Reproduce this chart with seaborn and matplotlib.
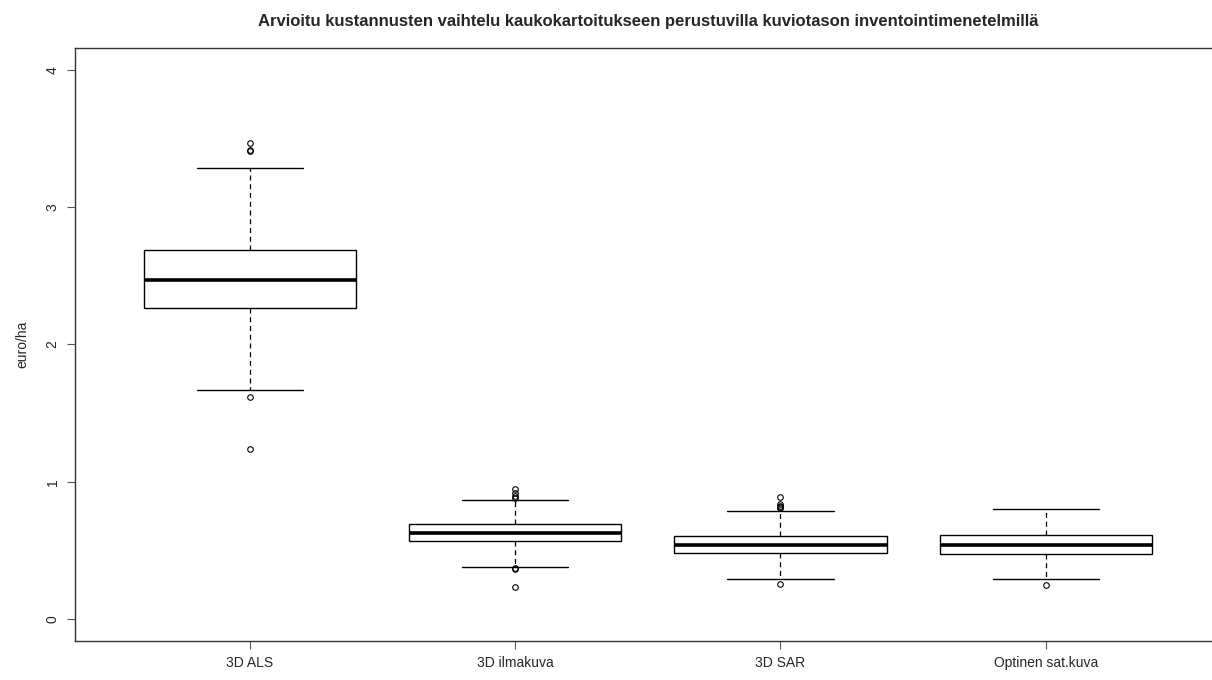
import pandas as pd
import matplotlib
matplotlib.use("Agg")
import matplotlib.pyplot as plt
import seaborn as sns

# Values (euro/ha), per inventory method
methods = ["3D ALS", "3D ilmakuva", "3D SAR", "Optinen sat.kuva"]

als = [1.241, 1.614, 1.665, 1.95, 2.12, 2.265, 2.31, 2.36, 2.41, 2.44, 2.472,
       2.51, 2.56, 2.61, 2.65, 2.686, 2.95, 3.283, 3.41, 3.42, 3.466]
ilmakuva = [0.23, 0.365, 0.37, 0.38, 0.47, 0.565, 0.58, 0.595, 0.605, 0.615, 0.627,
            0.64, 0.655, 0.665, 0.68, 0.69, 0.87, 0.885, 0.895, 0.92, 0.95]
sar = [0.256, 0.29, 0.33, 0.38, 0.42, 0.455, 0.478, 0.49, 0.50, 0.51, 0.52, 0.53,
       0.541, 0.55, 0.56, 0.575, 0.585, 0.595, 0.605, 0.79, 0.81, 0.815, 0.825,
       0.835, 0.887]
optinen = [0.249, 0.29, 0.35, 0.40, 0.44, 0.473, 0.49, 0.505, 0.52, 0.53, 0.541,
           0.555, 0.57, 0.585, 0.60, 0.609, 0.66, 0.70, 0.74, 0.77, 0.802]

df = pd.concat([
    pd.DataFrame({"menetelma": m, "kustannus": v})
    for m, v in zip(methods, [als, ilmakuva, sar, optinen])
])

sns.set_style("white")
plt.rcParams["font.family"] = ["Liberation Sans", "DejaVu Sans"]

fig = plt.figure(figsize=(12.12, 6.8), dpi=100)
ax = fig.add_axes([0.0619, 0.0574, 0.9453, 0.872])

sns.boxplot(
    data=df, x="menetelma", y="kustannus", order=methods, ax=ax,
    width=0.8, whis=1.5, color="white", linecolor="black", linewidth=1,
    boxprops=dict(facecolor="white", edgecolor="black", linewidth=1),
    medianprops=dict(color="black", linewidth=2.6),
    whiskerprops=dict(color="black", linestyle=(0, (4, 3)), linewidth=0.9),
    capprops=dict(color="black", linewidth=1),
    flierprops=dict(marker="o", markerfacecolor="none", markeredgecolor="black",
                    markersize=4, markeredgewidth=0.8),
    capwidths=0.4,
)

ax.set_xlim(-0.66, 3.66)
ax.set_ylim(-0.16, 4.16)
ax.set_yticks([0, 1, 2, 3, 4])
ax.set_yticklabels(["0", "1", "2", "3", "4"], rotation=90, va="center")
ax.tick_params(axis="both", direction="out", length=6, width=0.8, color="#555555",
               labelsize=10, pad=5, left=True, bottom=True)
for s in ["left", "bottom", "top", "right"]:
    ax.spines[s].set_color("#333333")
    ax.spines[s].set_linewidth(1)

ax.set_xlabel("")
ax.set_ylabel("euro/ha", fontsize=10, labelpad=12)
ax.set_title("Arvioitu kustannusten vaihtelu kaukokartoitukseen perustuvilla kuviotason inventointimenetelmillä",
             fontsize=12, fontweight="bold", pad=16)

fig.savefig("out.png", dpi=100)
